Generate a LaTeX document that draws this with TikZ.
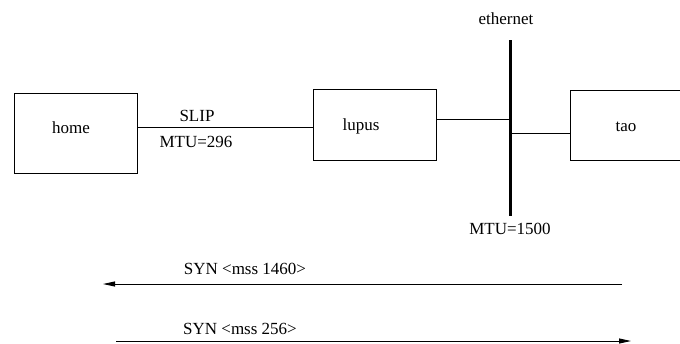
\documentclass[tikz,border=0pt]{standalone}
\usepackage{fontspec}
\setmainfont{Liberation Serif}
\usetikzlibrary{arrows.meta}
\begin{document}
\begin{tikzpicture}[x=1pt,y=-1pt,
  host/.style={draw, line width=0.9pt, inner sep=0pt},
  link/.style={line width=0.9pt},
  bus/.style={line width=3pt},
  lbl/.style={font=\fontsize{17}{19}\selectfont, inner sep=0pt},
  msg/.style={line width=0.9pt, -{Triangle[length=12pt,width=5pt]}}]
\useasboundingbox (0,0) rectangle (680,343);
% hosts
\node[host, minimum width=123pt, minimum height=80pt] (home) at (75.5,133) {};
\node[lbl] at (71,128) {home};
\node[host, minimum width=123pt, minimum height=71pt] (lupus) at (374.5,124.5) {};
\node[lbl] at (361,126) {lupus};
\draw[line width=0.9pt] (681,90) -- (570,90) -- (570,160) -- (681,160);
\coordinate (taoW) at (570,133);
\node[lbl] (tao) at (626,127) {tao};
% ethernet bus
\coordinate (busT) at (510,40);
\coordinate (busB) at (510,216);
\draw[bus] (busT) -- (busB);
\node[lbl, anchor=base] (eth) at (506,24) {ethernet};
\node[lbl] (mtu2) at (510,229) {MTU=1500};
% links
\draw[link] (home.east |- 0,127) -- (lupus.west |- 0,127);
\node[lbl] (slip) at (197,116) {SLIP};
\node[lbl] (mtu1) at (196,142) {MTU=296};
\draw[link] (lupus.east |- 0,119) -- (busT |- 0,119);
\draw[link] (busT |- taoW) -- (taoW);
% SYN exchange
\coordinate (a1) at (622,284);
\coordinate (a2) at (103,284);
\draw[msg] (a1) -- (a2);
\node[lbl] (syn1) at (245,269) {SYN <mss 1460>};
\coordinate (b1) at (116,341);
\coordinate (b2) at (631,341);
\draw[msg] (b1) -- (b2);
\node[lbl] (syn2) at (240,329) {SYN <mss 256>};
\end{tikzpicture}
\end{document}
